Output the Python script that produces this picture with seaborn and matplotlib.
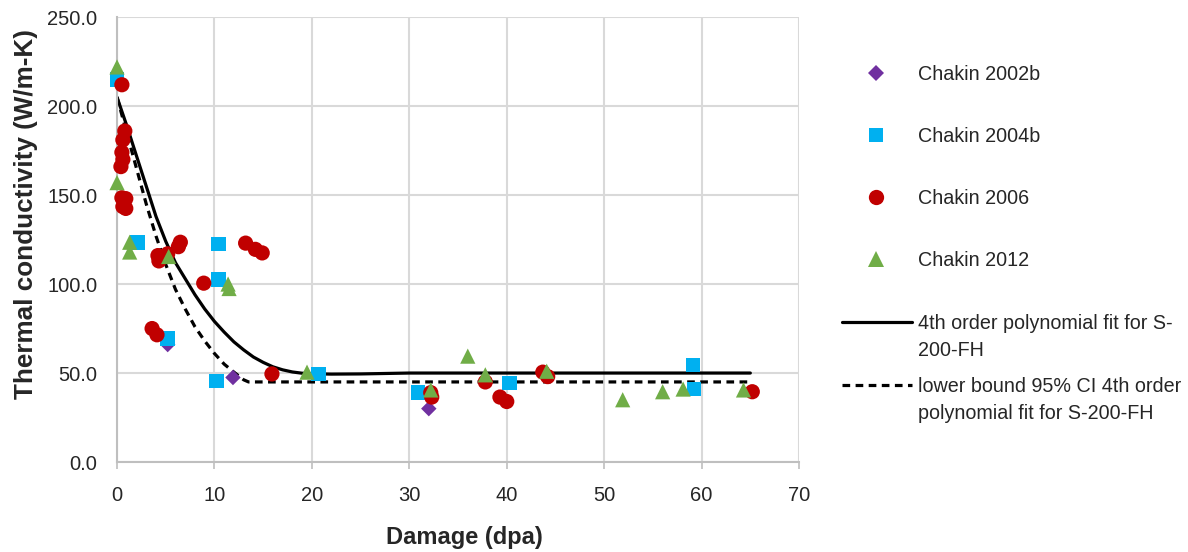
import matplotlib
matplotlib.use("Agg")
import matplotlib.pyplot as plt
from matplotlib.lines import Line2D
import seaborn as sns

# ---------------- data ----------------
c2002b_x = [5.2, 11.9, 32.0]
c2002b_y = [66.0, 47.5, 30.0]

c2004b_x = [0.0, 2.1, 10.4, 10.4, 5.2, 10.2, 20.7, 30.9, 40.3, 59.1, 59.2]
c2004b_y = [215.0, 123.5, 122.5, 102.5, 69.5, 45.5, 49.5, 39.0, 44.5, 54.5, 41.0]

c2006_x = [0.5, 0.8, 0.6, 0.5, 0.6, 0.4, 0.5, 0.9, 0.6, 0.9,
           4.2, 4.3, 6.5, 6.3, 5.2, 8.9, 3.6, 4.1, 13.2, 14.2, 14.9, 15.9,
           32.2, 32.3, 37.8, 39.3, 40.0, 43.7, 44.2, 65.2]
c2006_y = [212.0, 186.0, 181.0, 174.0, 170.0, 166.0, 148.5, 148.0, 143.5, 142.5,
           116.0, 113.0, 123.5, 121.0, 117.0, 100.5, 75.0, 71.5, 123.0, 119.5, 117.5, 49.5,
           39.0, 36.5, 45.0, 36.5, 34.0, 50.5, 48.0, 39.5]

c2012_x = [0.0, 0.0, 1.3, 1.3, 5.3, 11.4, 11.5, 19.5, 32.2, 36.0, 37.8, 44.1,
           51.9, 56.0, 58.1, 64.3]
c2012_y = [222.0, 157.0, 123.5, 118.0, 115.5, 100.0, 97.5, 50.5, 40.5, 59.5, 49.0, 51.0,
           35.0, 39.5, 41.0, 40.5]

fit_x = [0, 1, 2, 3, 4, 5, 6, 7, 8, 9, 10, 11, 12, 13, 14, 15, 16, 17, 18, 19, 20,
         22, 25, 28, 30, 65]
fit_y = [205, 189, 172, 155, 138, 124, 112, 103, 94, 86, 79, 73, 67.5, 63, 59, 56,
         53.5, 51.8, 50.6, 49.9, 49.6, 49.4, 49.5, 49.8, 50, 50]

lb_x = [0, 1, 2, 3, 4, 5, 6, 7, 8, 9, 10, 11, 12, 13, 13.5, 65]
lb_y = [205, 185, 165, 145, 127, 111, 97, 86, 76, 68, 61, 55, 50.5, 46.2, 45, 45]

x_ticks = [0, 10, 20, 30, 40, 50, 60, 70]
y_ticks = [0, 50, 100, 150, 200, 250]

labels = ["Chakin 2002b", "Chakin 2004b", "Chakin 2006", "Chakin 2012"]
fit_label_1 = ["4th order polynomial fit for S-", "200-FH"]
fit_label_2 = ["lower bound 95% CI 4th order", "polynomial fit for S-200-FH"]

colors = ["#7030A0", "#00B0F0", "#C00000", "#70AD47"]
markers = ["D", "s", "o", "^"]
sizes = [62, 110, 120, 120]

# ---------------- style ----------------
sns.set_theme(style="white")
plt.rcParams["font.family"] = ["Liberation Sans", "DejaVu Sans"]

fig = plt.figure(figsize=(11.88, 5.52), dpi=100)
ax = fig.add_axes([0.0985, 0.163, 0.5741, 0.806])

# fit lines
sns.lineplot(x=fit_x, y=fit_y, ax=ax, color="black", linewidth=2.3,
             sort=False, estimator=None, zorder=2)
sns.lineplot(x=lb_x, y=lb_y, ax=ax, color="black", linewidth=2.3,
             linestyle=(0, (2.4, 1.7)), sort=False, estimator=None, zorder=2)

series = [(c2002b_x, c2002b_y), (c2004b_x, c2004b_y), (c2006_x, c2006_y), (c2012_x, c2012_y)]
for (xs, ys), col, mk, sz, z in zip(series, colors, markers, sizes, [3, 4, 5, 6]):
    sns.scatterplot(x=xs, y=ys, ax=ax, color=col, marker=mk, s=sz,
                    edgecolor="none", linewidth=0, zorder=z, clip_on=False)

ax.set_xlim(0, 70)
ax.set_ylim(0, 250)
ax.set_xticks(x_ticks)
ax.set_yticks(y_ticks)
ax.set_xticklabels([str(t) for t in x_ticks])
ax.set_yticklabels([f"{t:.1f}" for t in y_ticks])
ax.tick_params(axis="x", length=5, width=1.2, color="#BFBFBF", labelsize=14.5,
               labelcolor="#262626", pad=12, direction="out", bottom=True)
ax.tick_params(axis="y", length=0, labelsize=14.5, labelcolor="#262626", pad=14)
ax.grid(True, color="#D9D9D9", linewidth=1.5)
ax.set_axisbelow(True)
for side in ["top", "right"]:
    ax.spines[side].set_visible(False)
for side in ["left", "bottom"]:
    ax.spines[side].set_color("#BFBFBF")
    ax.spines[side].set_linewidth(1.5)

ax.set_xlabel("Damage (dpa)", fontsize=17, fontweight="bold", color="#262626")
ax.xaxis.set_label_coords(0.509, -0.143)
ax.set_ylabel("Thermal conductivity (W/m-K)", fontsize=18.8, fontweight="bold",
              color="#262626")
ax.yaxis.set_label_coords(-0.116, 0.557)

# ---------------- legends ----------------
fs = 14.2
mh = [Line2D([], [], linestyle="none", marker=mk, color=col, markersize=m, markeredgewidth=0)
      for mk, col, m in zip(markers, colors, [8.5, 10.5, 11, 11])]
fig.legend(mh, labels, loc="center left", bbox_to_anchor=(0.7210, 1 - 167.5 / 552),
           frameon=False, fontsize=fs, handlelength=2, handletextpad=1.14,
           labelspacing=2.19, borderpad=0, borderaxespad=0, labelcolor="#262626")

blank = Line2D([], [], linestyle="none")
solid = Line2D([], [], color="black", linewidth=2.3)
dashed = Line2D([], [], color="black", linewidth=2.3, linestyle=(0, (2.4, 1.7)))
fig.legend([solid, blank], fit_label_1, loc="center left",
           bbox_to_anchor=(0.7088, 1 - 337 / 552), frameon=False, fontsize=fs,
           handlelength=3.55, handletextpad=0.31, labelspacing=0.42, borderpad=0,
           borderaxespad=0, labelcolor="#262626")
fig.legend([dashed, blank], fit_label_2, loc="center left",
           bbox_to_anchor=(0.7088, 1 - 400 / 552), frameon=False, fontsize=fs,
           handlelength=3.55, handletextpad=0.31, labelspacing=0.42, borderpad=0,
           borderaxespad=0, labelcolor="#262626")

fig.savefig("out.png", dpi=100)
